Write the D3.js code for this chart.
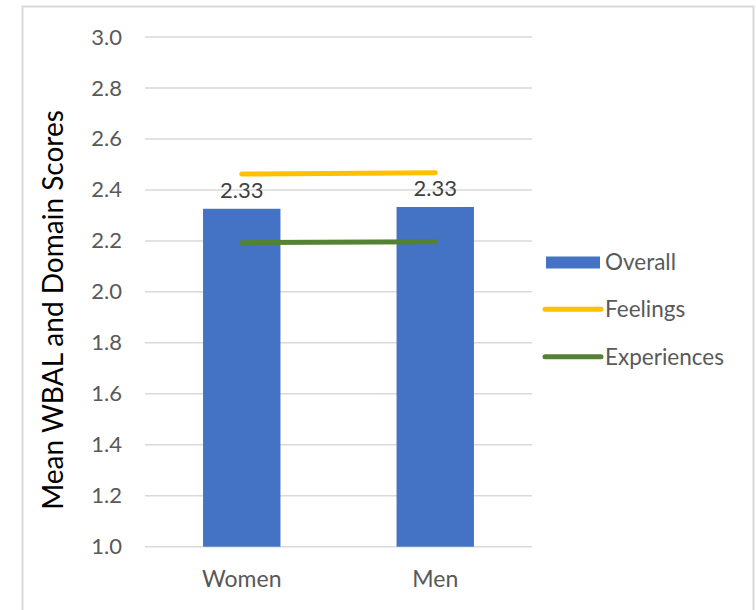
<!DOCTYPE html>
<html>
<head>
<meta charset="utf-8">
<script src="https://cdn.jsdelivr.net/npm/d3@7"></script>
<style>
  html, body { margin: 0; padding: 0; background: #ffffff; }
  svg { display: block; font-family: Lato, "Open Sans", sans-serif; }
</style>
</head>
<body>
<svg id="chart" width="756" height="610"></svg>
<script>
// Groups and mean scores
const groups = ["Women", "Men"];
const overall = [2.326, 2.333];
const feelings = [2.462, 2.467];
const experiences = [2.193, 2.197];
const yTicks = [1.0, 1.2, 1.4, 1.6, 1.8, 2.0, 2.2, 2.4, 2.6, 2.8, 3.0];
const seriesNames = ["Overall", "Feelings", "Experiences"];

const colors = { Overall: "#4472C4", Feelings: "#FFC000", Experiences: "#548235" };

const svg = d3.select("#chart");

// Chart frame
svg.append("rect")
  .attr("x", 22.5).attr("y", 6.5)
  .attr("width", 731).attr("height", 620)
  .attr("fill", "#ffffff")
  .attr("stroke", "#d9d9d9").attr("stroke-width", 2);

const plot = { left: 145, right: 532, top: 37, bottom: 546.7 };

const x = d3.scaleBand().domain(groups)
  .range([plot.left, plot.right]).paddingInner(0.6).paddingOuter(0.3);
const y = d3.scaleLinear().domain([1, 3]).range([plot.bottom, plot.top]);

// Horizontal gridlines
svg.append("g").selectAll("line").data(yTicks).join("line")
  .attr("x1", plot.left).attr("x2", plot.right)
  .attr("y1", d => y(d)).attr("y2", d => y(d))
  .attr("stroke", "#d9d9d9").attr("stroke-width", 1.5);

// Y axis labels
const yAxis = d3.axisLeft(y).tickValues(yTicks).tickFormat(d3.format(".1f")).tickSize(0).tickPadding(0);
const yg = svg.append("g").attr("transform", `translate(${plot.left - 23},0)`).call(yAxis);
yg.select(".domain").remove();
yg.selectAll("text")
  .attr("font-family", "Lato, sans-serif")
  .attr("font-size", 22).attr("fill", "#595959");

// X axis labels
const xAxis = d3.axisBottom(x).tickSize(0).tickPadding(0);
const xg = svg.append("g").attr("transform", `translate(0,${plot.bottom + 24})`).call(xAxis);
xg.select(".domain").remove();
xg.selectAll("text")
  .attr("font-family", "Lato, sans-serif")
  .attr("font-size", 23).attr("fill", "#595959");

// Overall bars
svg.append("g").selectAll("rect").data(groups).join("rect")
  .attr("x", d => x(d))
  .attr("width", x.bandwidth())
  .attr("y", (d, i) => y(overall[i]))
  .attr("height", (d, i) => y(1) - y(overall[i]))
  .attr("fill", colors.Overall);

// Bar value labels
svg.append("g").selectAll("text").data(groups).join("text")
  .attr("x", d => x(d) + x.bandwidth() / 2)
  .attr("y", (d, i) => y(overall[i]) - 11)
  .attr("text-anchor", "middle")
  .attr("font-size", 22).attr("fill", "#404040")
  .text((d, i) => d3.format(".2f")(overall[i]));

// Domain lines
const line = d3.line()
  .x(d => x(d.g) + x.bandwidth() / 2)
  .y(d => y(d.v));

[["Feelings", feelings], ["Experiences", experiences]].forEach(([name, vals]) => {
  svg.append("path")
    .datum(groups.map((g, i) => ({ g, v: vals[i] })))
    .attr("d", line)
    .attr("fill", "none")
    .attr("stroke", colors[name])
    .attr("stroke-width", 5)
    .attr("stroke-linecap", "round");
});

// Y axis title
svg.append("text")
  .attr("transform", "translate(63,310) rotate(-90)")
  .attr("text-anchor", "middle")
  .attr("font-size", 28).attr("fill", "#000000")
  .text("Mean WBAL and Domain Scores");

// Legend
const legend = svg.append("g").attr("transform", "translate(543,0)");
const legendY = [262.5, 309.3, 356.7];
seriesNames.forEach((name, i) => {
  const g = legend.append("g").attr("transform", `translate(0,${legendY[i]})`);
  if (name === "Overall") {
    g.append("rect").attr("x", 3).attr("y", -6).attr("width", 54).attr("height", 12)
      .attr("fill", colors[name]);
  } else {
    g.append("line").attr("x1", 2).attr("x2", 58).attr("y1", 0).attr("y2", 0)
      .attr("stroke", colors[name]).attr("stroke-width", 5).attr("stroke-linecap", "round");
  }
  g.append("text").attr("x", 62).attr("y", 0).attr("dy", "0.35em")
    .attr("font-size", 22.5).attr("fill", "#595959")
    .text(name);
});
</script>
</body>
</html>
